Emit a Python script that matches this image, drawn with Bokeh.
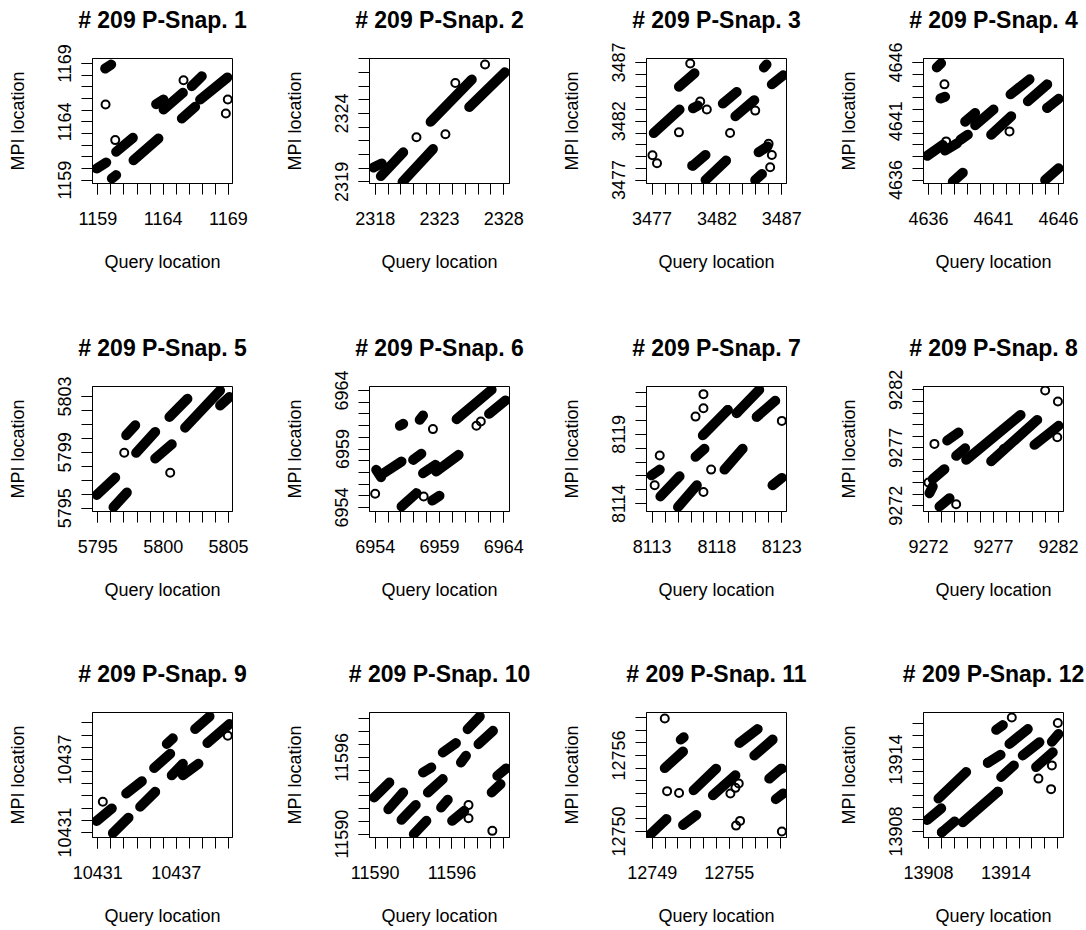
import math
from bokeh.plotting import figure
from bokeh.layouts import column, row
from bokeh.models import FixedTicker, Range1d, Title
from bokeh.embed import file_html
from bokeh.resources import INLINE

FONT = "Liberation Sans"

# ---------------- data ----------------
TITLES = ["# 209 P-Snap. %d" % k for k in range(1, 13)]

# axis limits (box edges) per panel
X_LIMITS = [(1158.59, 1169.31), (2317.56, 2328.44), (3476.57, 3487.36), (4635.62, 4646.38),
            (5794.59, 5805.31), (6953.56, 6964.44), (8112.57, 8123.36), (9271.62, 9282.38),
            (10430.59, 10441.31), (11589.56, 11600.49), (12748.56, 12759.44), (13907.61, 13918.44)]
Y_LIMITS = [(1158.71, 1169.43), (2318.88, 2328.02), (3476.71, 3487.34), (4635.71, 4646.34),
            (5794.76, 5803.72), (6953.66, 6964.34), (8113.44, 8122.45), (9271.51, 9282.29),
            (10430.59, 10440.86), (11589.74, 11599.50), (12749.53, 12759.40), (13907.50, 13917.92)]

# labelled tick values
X_LABELS = [[1159, 1164, 1169], [2318, 2323, 2328], [3477, 3482, 3487], [4636, 4641, 4646],
            [5795, 5800, 5805], [6954, 6959, 6964], [8113, 8118, 8123], [9272, 9277, 9282],
            [10431, 10437], [11590, 11596], [12749, 12755], [13908, 13914]]
Y_LABELS = [[1159, 1164, 1169], [2319, 2324], [3477, 3482, 3487], [4636, 4641, 4646],
            [5795, 5799, 5803], [6954, 6959, 6964], [8114, 8119], [9272, 9277, 9282],
            [10431, 10437], [11590, 11596], [12750, 12756], [13908, 13914]]

# dense runs of matches: (query start, MPI start, query end, MPI end)
RUNS_1 = [(1158.92, 1160.00, 1159.64, 1160.51), (1160.07, 1159.14, 1160.40, 1159.43),
          (1159.56, 1168.57, 1160.02, 1168.91), (1160.40, 1161.43, 1161.68, 1162.63),
          (1161.73, 1160.71, 1163.64, 1162.57), (1163.46, 1165.51, 1164.03, 1165.91),
          (1164.03, 1165.06, 1165.51, 1166.49), (1165.43, 1164.29, 1166.45, 1165.29),
          (1166.19, 1167.06, 1166.96, 1167.91), (1166.83, 1165.91, 1168.92, 1167.80)]
RUNS_2 = [(2317.87, 2320.05, 2318.51, 2320.35), (2318.44, 2319.42, 2320.18, 2321.16),
          (2320.13, 2319.00, 2322.49, 2321.40), (2322.31, 2323.39, 2325.51, 2326.48),
          (2325.31, 2324.47, 2328.08, 2327.01)]
RUNS_3 = [(3477.13, 3481.00, 3479.12, 3483.00), (3479.07, 3484.94, 3480.27, 3486.09),
          (3480.15, 3483.11, 3480.53, 3483.34), (3480.15, 3478.23, 3481.12, 3479.14),
          (3481.12, 3477.00, 3482.70, 3478.66), (3482.45, 3483.51, 3483.52, 3484.49),
          (3483.42, 3482.43, 3484.88, 3483.80), (3484.95, 3477.00, 3485.47, 3477.51),
          (3485.21, 3479.37, 3485.90, 3479.86), (3485.62, 3486.57, 3485.82, 3486.83),
          (3486.23, 3485.14, 3487.10, 3485.91)]
RUNS_4 = [(4636.64, 4645.57, 4636.97, 4645.94), (4636.92, 4642.94, 4637.28, 4643.09),
          (4635.90, 4638.06, 4637.10, 4639.00), (4637.28, 4638.51, 4638.21, 4639.14),
          (4638.46, 4639.43, 4639.03, 4639.86), (4637.87, 4635.86, 4638.64, 4636.63),
          (4638.82, 4640.97, 4639.59, 4641.71), (4639.59, 4640.66, 4641.00, 4642.00),
          (4640.82, 4639.86, 4642.36, 4641.43), (4642.31, 4643.29, 4643.77, 4644.57),
          (4643.64, 4642.71, 4645.13, 4644.14), (4645.13, 4642.14, 4646.00, 4642.91),
          (4644.97, 4636.00, 4646.00, 4637.00)]
RUNS_5 = [(5794.92, 5795.95, 5796.33, 5797.19), (5796.20, 5795.07, 5797.22, 5796.12),
          (5797.17, 5800.23, 5797.86, 5800.94), (5797.93, 5798.97, 5799.39, 5800.46),
          (5799.39, 5798.56, 5800.66, 5799.58), (5800.48, 5801.53, 5801.86, 5802.84),
          (5801.68, 5800.77, 5804.36, 5803.43), (5804.36, 5802.36, 5805.08, 5802.96)]
RUNS_6 = [(6954.08, 6957.22, 6954.46, 6956.59), (6954.46, 6956.79, 6956.05, 6957.93),
          (6956.05, 6954.09, 6957.21, 6955.23), (6958.44, 6954.60, 6959.00, 6955.00),
          (6956.95, 6958.07, 6957.59, 6958.59), (6957.72, 6956.93, 6958.69, 6957.65),
          (6958.74, 6957.08, 6960.49, 6958.50), (6955.92, 6960.98, 6956.18, 6961.15),
          (6957.46, 6961.49, 6957.72, 6961.86), (6960.33, 6961.55, 6963.05, 6964.06),
          (6962.85, 6962.01, 6964.13, 6963.15)]
RUNS_7 = [(8112.95, 8116.05, 8113.59, 8116.46), (8113.64, 8114.53, 8115.12, 8115.98),
          (8115.00, 8113.76, 8116.45, 8115.33), (8116.35, 8117.38, 8117.04, 8117.96),
          (8116.91, 8118.93, 8118.83, 8120.76), (8118.58, 8116.46, 8119.98, 8117.96),
          (8119.60, 8120.62, 8121.26, 8122.21), (8121.06, 8120.26, 8122.49, 8121.42),
          (8122.28, 8115.33, 8123.00, 8115.86)]
RUNS_8 = [(9272.08, 9273.09, 9272.33, 9273.67), (9272.33, 9274.30, 9273.23, 9275.16),
          (9272.85, 9271.94, 9273.62, 9272.66), (9273.44, 9277.63, 9274.31, 9278.32),
          (9274.13, 9276.31, 9274.82, 9276.97), (9274.90, 9275.97, 9279.08, 9279.84),
          (9276.82, 9275.85, 9280.36, 9279.41), (9280.15, 9277.26, 9282.00, 9278.90)]
RUNS_9 = [(10430.92, 10431.95, 10432.07, 10432.98), (10432.15, 10430.95, 10433.35, 10432.22),
          (10433.17, 10434.21, 10434.37, 10435.21), (10434.24, 10433.12, 10435.39, 10434.34),
          (10435.31, 10436.30, 10436.54, 10437.47), (10436.28, 10438.28, 10436.74, 10438.74),
          (10436.66, 10435.70, 10437.51, 10436.65), (10437.51, 10435.70, 10438.70, 10436.65),
          (10438.45, 10439.51, 10439.55, 10440.54), (10439.39, 10438.36, 10441.08, 10439.91)]
RUNS_10 = [(11589.92, 11592.86, 11591.11, 11594.04), (11591.03, 11591.95, 11592.19, 11593.26),
           (11592.06, 11591.12, 11593.17, 11592.27), (11593.02, 11590.00, 11594.00, 11591.04),
           (11593.74, 11594.82, 11594.38, 11595.21), (11594.12, 11593.26, 11595.28, 11594.30),
           (11595.15, 11592.08, 11595.67, 11592.68), (11595.28, 11596.38, 11596.31, 11597.11),
           (11596.70, 11595.60, 11597.09, 11596.12), (11596.01, 11591.04, 11596.96, 11591.82),
           (11597.22, 11598.20, 11598.17, 11599.19), (11598.07, 11597.03, 11599.20, 11598.07),
           (11599.10, 11593.26, 11599.79, 11593.91), (11599.54, 11594.56, 11600.23, 11595.13)]
RUNS_11 = [(12748.82, 12749.74, 12750.11, 12750.99), (12749.98, 12755.01, 12751.40, 12756.32),
           (12751.22, 12757.26, 12751.45, 12757.44), (12751.40, 12750.52, 12752.43, 12751.31),
           (12752.22, 12753.26, 12753.97, 12754.96), (12753.72, 12752.87, 12755.47, 12754.44),
           (12755.78, 12757.00, 12757.20, 12758.09), (12756.94, 12756.01, 12758.36, 12757.26),
           (12758.10, 12754.18, 12759.00, 12754.96), (12758.61, 12752.56, 12759.18, 12753.00)]
RUNS_12 = [(13907.90, 13908.96, 13908.98, 13909.93), (13909.03, 13907.94, 13910.01, 13908.83),
           (13908.77, 13910.75, 13910.91, 13912.96), (13910.65, 13908.77, 13913.36, 13911.31),
           (13912.59, 13913.73, 13913.57, 13914.39), (13913.62, 13912.55, 13914.60, 13913.51),
           (13913.23, 13916.48, 13913.75, 13916.87), (13914.26, 13915.30, 13915.68, 13916.54),
           (13915.29, 13914.34, 13916.58, 13915.44), (13916.32, 13913.37, 13917.61, 13914.61),
           (13917.54, 13915.49, 13918.05, 13916.13)]

# isolated matches: query location / MPI location
PTS_X_1 = [1159.59, 1160.33, 1165.56, 1168.95, 1168.80]
PTS_Y_1 = [1165.49, 1162.43, 1167.57, 1165.91, 1164.71]
PTS_X_2 = [2321.21, 2323.46, 2324.23, 2326.54]
PTS_Y_2 = [2322.26, 2322.48, 2326.23, 2327.58]
PTS_X_3 = [3477.03, 3477.38, 3479.07, 3479.94, 3480.71, 3481.22, 3480.09, 3483.01, 3484.95, 3485.98, 3486.23, 3486.10]
PTS_Y_3 = [3479.11, 3478.43, 3481.06, 3486.91, 3483.69, 3483.00, 3478.23, 3481.00, 3482.91, 3480.09, 3479.14, 3478.09]
PTS_X_4 = [4637.23, 4637.36, 4642.23, 4645.13]
PTS_Y_4 = [4644.14, 4639.29, 4640.14, 4642.14]
PTS_X_5 = [5797.02, 5800.54]
PTS_Y_5 = [5798.97, 5797.54]
PTS_X_6 = [6954.00, 6957.77, 6958.49, 6961.87, 6962.21]
PTS_Y_6 = [6955.17, 6954.94, 6960.70, 6960.98, 6961.35]
PTS_X_7 = [8113.59, 8113.20, 8116.96, 8117.55, 8116.35, 8116.96, 8116.96, 8118.83, 8119.52, 8123.00]
PTS_Y_7 = [8117.48, 8115.33, 8114.85, 8116.46, 8120.28, 8120.88, 8121.90, 8120.76, 8120.52, 8119.97]
PTS_X_8 = [9272.00, 9272.46, 9274.13, 9277.79, 9281.90, 9280.97, 9281.95]
PTS_Y_8 = [9274.01, 9277.34, 9272.14, 9276.89, 9277.92, 9281.94, 9281.00]
PTS_X_9 = [10431.38, 10440.95]
PTS_Y_9 = [10433.53, 10438.96]
PTS_X_10 = [11597.29, 11597.29, 11599.15]
PTS_Y_10 = [11592.27, 11591.25, 11590.26]
PTS_X_11 = [12749.98, 12750.16, 12751.09, 12755.08, 12755.47, 12755.73, 12755.52, 12755.83, 12759.08, 12759.08]
PTS_Y_11 = [12758.93, 12753.19, 12753.05, 12753.00, 12753.45, 12753.79, 12750.47, 12750.84, 12754.96, 12750.00]
PTS_X_12 = [13909.03, 13913.36, 13912.59, 13914.44, 13916.50, 13917.54, 13917.48, 13918.00]
PTS_Y_12 = [13907.94, 13911.31, 13913.73, 13917.50, 13912.41, 13913.51, 13911.53, 13917.04]

RUNS = [RUNS_1, RUNS_2, RUNS_3, RUNS_4, RUNS_5, RUNS_6, RUNS_7, RUNS_8, RUNS_9, RUNS_10, RUNS_11, RUNS_12]
PTS_X = [PTS_X_1, PTS_X_2, PTS_X_3, PTS_X_4, PTS_X_5, PTS_X_6, PTS_X_7, PTS_X_8, PTS_X_9, PTS_X_10, PTS_X_11, PTS_X_12]
PTS_Y = [PTS_Y_1, PTS_Y_2, PTS_Y_3, PTS_Y_4, PTS_Y_5, PTS_Y_6, PTS_Y_7, PTS_Y_8, PTS_Y_9, PTS_Y_10, PTS_Y_11, PTS_Y_12]

# ---------------- layout ----------------
COL_W = [277, 277, 277, 255]
ROW_H = [328, 326, 276]
FRAME_W, FRAME_H = 140, 125
LEFT, TOP = 92, 58


def style_axis(ax, labels, lo, hi, label_text, lab_standoff, ax_standoff, vertical=False):
    ints = list(range(math.ceil(lo), math.floor(hi) + 1))
    ax.ticker = FixedTicker(ticks=labels, minor_ticks=ints)
    ax.major_label_overrides = {v: str(v) for v in labels}
    ax.axis_line_color = "black"
    ax.major_tick_line_color = "black"
    ax.minor_tick_line_color = "black"
    ax.major_tick_out = 11
    ax.major_tick_in = 0
    ax.minor_tick_out = 11
    ax.minor_tick_in = 0
    ax.major_label_text_font = FONT
    ax.major_label_text_font_size = "18px"
    ax.major_label_text_color = "black"
    ax.major_label_standoff = lab_standoff
    if vertical:
        ax.major_label_orientation = "vertical"
    ax.axis_label = label_text
    ax.axis_label_text_font = FONT
    ax.axis_label_text_font_size = "18px"
    ax.axis_label_text_font_style = "normal"
    ax.axis_label_text_color = "black"
    ax.axis_label_standoff = ax_standoff


rows = []
for r in range(3):
    figs = []
    for c in range(4):
        i = r * 4 + c
        p = figure(width=COL_W[c], height=ROW_H[r],
                   x_range=Range1d(*X_LIMITS[i]), y_range=Range1d(*Y_LIMITS[i]),
                   output_backend="svg", toolbar_location=None,
                   min_border_left=LEFT, min_border_right=COL_W[c] - LEFT - FRAME_W,
                   min_border_top=TOP, min_border_bottom=ROW_H[r] - TOP - FRAME_H)
        p.background_fill_color = "white"
        p.border_fill_color = "white"
        p.outline_line_color = "black"
        p.outline_line_width = 1
        p.grid.visible = False

        # white (invisible) spacer between the frame and the title
        p.add_layout(Title(text="x", text_color="white", text_font_size="2px", standoff=22), "above")
        p.add_layout(Title(text=TITLES[i], align="center", text_font=FONT, text_font_size="23px",
                           text_font_style="bold", text_color="black", standoff=0), "above")

        style_axis(p.xaxis[0], X_LABELS[i], *X_LIMITS[i], "Query location", 17, 24)
        style_axis(p.yaxis[0], Y_LABELS[i], *Y_LIMITS[i], "MPI location", 10, 28, vertical=True)

        runs = RUNS[i]
        p.segment(x0=[s[0] for s in runs], y0=[s[1] for s in runs],
                  x1=[s[2] for s in runs], y1=[s[3] for s in runs],
                  line_color="black", line_width=10, line_cap="round")
        p.scatter(PTS_X[i], PTS_Y[i], marker="circle", size=8, fill_color=None,
                  line_color="black", line_width=2)
        figs.append(p)
    rows.append(row(*figs, spacing=0))

layout = column(*rows, spacing=0)
open("out.html", "w").write(file_html(layout, INLINE))
